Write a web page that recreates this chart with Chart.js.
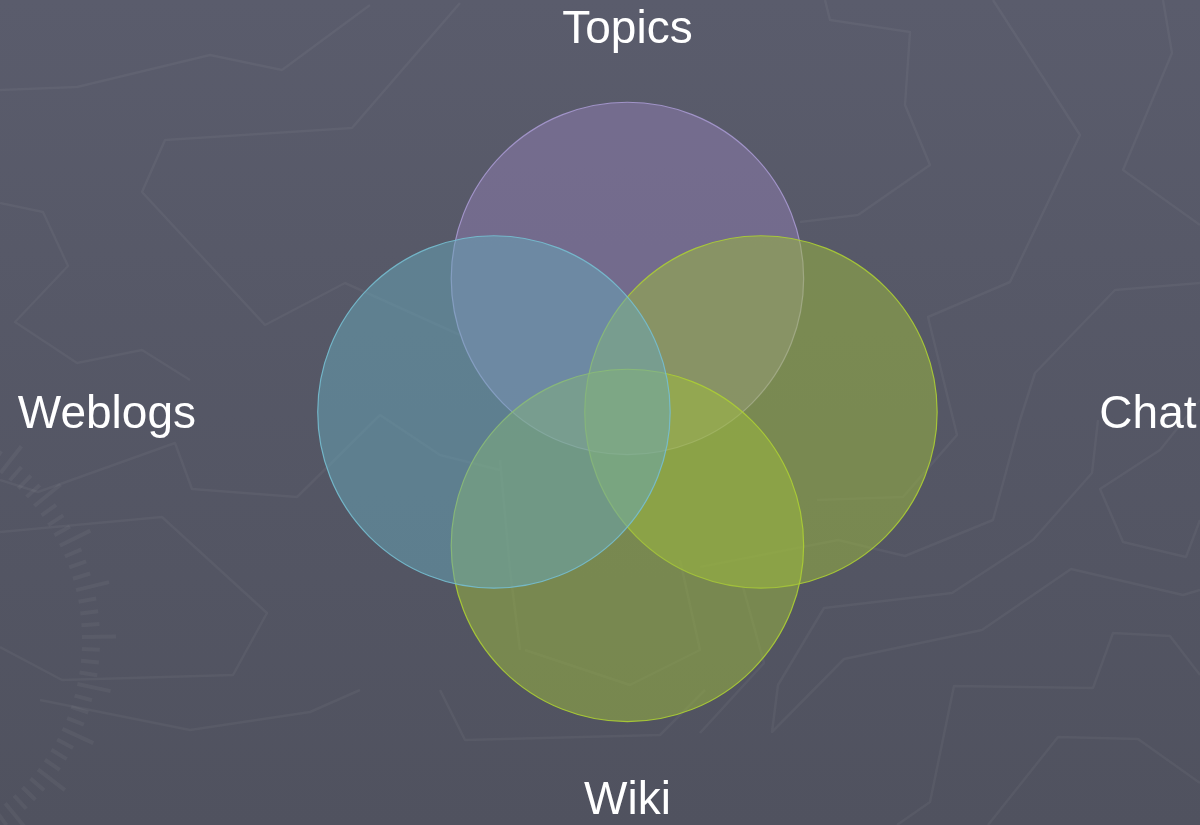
<!DOCTYPE html>
<html>
<head>
<meta charset="utf-8">
<title>Topics / Weblogs / Chat / Wiki</title>
<script src="https://cdn.jsdelivr.net/npm/chart.js@4.4.1/dist/chart.umd.min.js"></script>
<style>
  html, body { margin: 0; padding: 0; background: #555766; }
  #wrap { width: 1200px; height: 825px; }
</style>
</head>
<body>
<div id="wrap"><canvas id="venn" width="1200" height="825"></canvas></div>
<script>
// circles in drawing order (last one ends up on top)
const sets = ['Topics', 'Chat', 'Wiki', 'Weblogs'];
const centerX = [0, 1, 0, -1];
const centerY = [1, 0, -1, 0];
const setSize = [1.32, 1.32, 1.32, 1.32]; // radius, in axis units

const fills = ['rgba(144,126,177,0.5)', 'rgba(158,188,61,0.5)', 'rgba(158,188,61,0.5)', 'rgba(104,168,185,0.5)'];
const strokes = ['rgba(172,156,214,0.85)', 'rgba(172,206,52,0.9)', 'rgba(172,206,52,0.9)', 'rgba(118,190,208,0.9)'];

// faint decorative lines of the slide background (pixels)
const bgLines = [
  [[0,90],[77,87],[210,55],[282,70],[370,5]],
  [[460,3],[352,128],[165,140],[142,192],[265,325],[345,283],[460,335]],
  [[0,203],[43,212],[68,266],[15,322],[77,363],[142,350],[190,380]],
  [[825,0],[830,20],[910,32],[905,105],[930,165],[858,215],[800,222]],
  [[993,0],[1080,135],[1010,282],[928,317],[957,435],[903,497],[817,500]],
  [[1163,0],[1172,53],[1123,170],[1200,225]],
  [[1200,283],[1115,290],[1035,373],[1020,420],[993,520],[905,556],[838,540],[700,567]],
  [[1098,420],[1092,473],[1033,540],[952,593],[824,608],[778,685],[772,732],[844,659],[982,630],[1071,569],[1183,595],[1200,590]],
  [[1200,520],[1186,557],[1123,542],[1100,489],[1160,450],[1200,400]],
  [[1200,675],[1170,636],[1113,633],[1093,688],[954,686],[930,802],[897,825]],
  [[1200,783],[1138,739],[1058,737],[988,825]],
  [[700,733],[764,663],[743,587]],
  [[0,480],[38,492],[175,443],[192,489],[297,497],[380,415],[440,455],[500,470]],
  [[0,532],[162,517],[267,613],[233,675],[62,680],[0,647]],
  [[40,700],[190,730],[310,712],[360,690]],
  [[440,690],[465,740],[660,735],[705,690]],
  [[525,650],[630,685],[700,650],[680,560]],
  [[500,460],[510,570],[520,650]]
];

// bubble chart that does not shrink the plot area to make room for big bubbles
class VennController extends Chart.BubbleController {
  getMaxOverflow() { return false; }
}
VennController.id = 'venn';
VennController.defaults = Chart.BubbleController.defaults;
VennController.overrides = Chart.BubbleController.overrides;
Chart.register(VennController);

const backdrop = {
  id: 'backdrop',
  beforeDraw(chart) {
    const c = chart.ctx;
    const w = chart.width, h = chart.height;
    c.save();
    const g = c.createLinearGradient(0, 0, 0, h);
    g.addColorStop(0, '#5a5c6c');
    g.addColorStop(1, '#50525f');
    c.fillStyle = g;
    c.fillRect(0, 0, w, h);
    c.strokeStyle = 'rgba(255,255,255,0.045)';
    c.lineWidth = 2.5;
    c.lineJoin = 'round';
    bgLines.forEach(pts => {
      c.beginPath();
      pts.forEach((p, i) => i ? c.lineTo(p[0], p[1]) : c.moveTo(p[0], p[1]));
      c.stroke();
    });
    // dial ticks on the left edge
    c.lineWidth = 4;
    for (let a = -68; a <= 70; a += 3.2) {
      const t = a * Math.PI / 180;
      const len = (Math.round(a / 3.2) % 4 === 0) ? 34 : 18;
      c.beginPath();
      c.moveTo(-130 + 212 * Math.cos(t), 640 + 212 * Math.sin(t));
      c.lineTo(-130 + (212 + len) * Math.cos(t), 640 + (212 + len) * Math.sin(t));
      c.stroke();
    }
    c.restore();
  }
};

const setLabels = {
  id: 'setLabels',
  afterDatasetsDraw(chart) {
    const c = chart.ctx;
    const meta = chart.getDatasetMeta(0);
    c.save();
    c.fillStyle = '#ffffff';
    c.font = '46px "Liberation Sans", Arial, sans-serif';
    c.textAlign = 'center';
    c.textBaseline = 'alphabetic';
    meta.data.forEach((pt, i) => {
      const lx = pt.x + Math.sign(centerX[i]) * 387;
      const ly = pt.y - Math.sign(centerY[i]) * 252 + 16.5;
      c.fillText(sets[i], lx, ly);
    });
    c.restore();
  }
};

const points = () => sets.map((s, i) => ({ x: centerX[i], y: centerY[i] }));

const chart = new Chart(document.getElementById('venn'), {
  type: 'venn',
  data: {
    labels: sets,
    datasets: [{
      data: points(),
      backgroundColor: fills,
      borderColor: strokes,
      borderWidth: 1.2,
      clip: false
    }]
  },
  options: {
    responsive: false,
    animation: false,
    events: [],
    layout: { padding: 0 },
    plugins: { legend: { display: false }, tooltip: { enabled: false } },
    scales: {
      x: { type: 'linear', display: false, min: -4.7, max: 4.289 },
      y: { type: 'linear', display: false, min: -3.094, max: 3.086 }
    }
  },
  plugins: [backdrop, setLabels]
});

// bubble r is in pixels: once the x scale is sized, turn the radii (axis units) into pixels
const sx = chart.scales.x;
chart.data.datasets[0].data = points().map((p, i) => ({
  x: p.x, y: p.y,
  r: Math.abs(sx.getPixelForValue(setSize[i]) - sx.getPixelForValue(0))
}));
chart.update();
</script>
</body>
</html>
